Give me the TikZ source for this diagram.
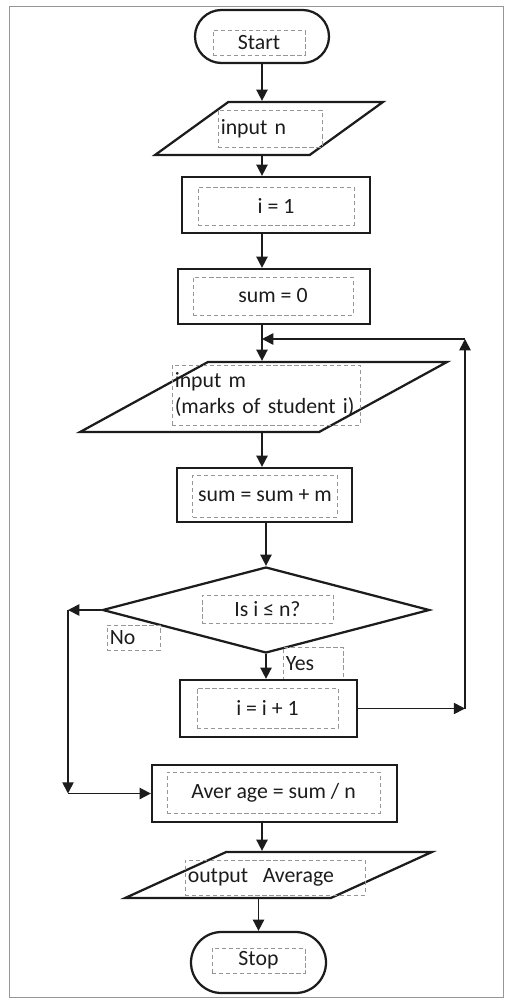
\documentclass[tikz,border=0pt]{standalone}
\usepackage{fontspec}
\setmainfont{Carlito}
\usepackage{tikz}
\usetikzlibrary{arrows.meta,shapes.misc,shapes.geometric}
\definecolor{ink}{RGB}{28,28,28}
\definecolor{scan}{RGB}{150,150,150}
\newlength{\pxl}
\setlength{\pxl}{0.025cm}

\begin{document}
\begin{tikzpicture}[x=\pxl,y=-\pxl,
  shp/.style={draw=ink,line width=1.6pt,inner sep=0pt},
  term/.style={shp,rounded rectangle},
  proc/.style={shp,rectangle},
  io/.style={shp,trapezium,trapezium stretches=true,inner sep=2pt},
  dec/.style={shp,diamond,inner sep=2pt},
  sz/.style 2 args={minimum width=#1*\pxl,minimum height=#2*\pxl},
  tbox/.style={draw=scan,densely dashed,line width=0.5pt,inner xsep=4pt,inner ysep=0pt,
    text=ink,font=\fontsize{15.5}{18.5}\selectfont},
  lbox/.style={tbox,inner xsep=2pt,align=left,text width=\dimexpr#1\pxl-4pt\relax},
  arr/.style={draw=ink,line width=1.2pt,-{Triangle[length=8pt,width=8pt]}}]
  \useasboundingbox (0,0) rectangle (506,999);
  \draw[scan,line width=0.6pt] (9,6) rectangle (503,997);
  \node[term,sz={134}{53}] (start) at (262,36.5) {};
  \node[tbox,sz={92}{25}] (startT) at (259,42.5) {Start};
  \node[io,sz={228}{53},trapezium left angle=48,trapezium right angle=132] (inN) at (269,128.5) {};
  \node[lbox=104,sz={104}{37}] (inNT) at (270,128.5) {input n};
  \node[proc,sz={188}{56}] (one) at (276,205) {};
  \node[tbox,sz={156}{38}] (oneT) at (276,206) {i = 1};
  \node[proc,sz={192}{55}] (zero) at (274,296.5) {};
  \node[tbox,sz={160}{38}] (zeroT) at (273,296) {sum = 0};
  \node[io,sz={367}{70},trapezium left angle=41,trapezium right angle=139] (inM) at (263.5,397) {};
  \node[lbox=188,sz={188}{60}] (inMT) at (266,395) {input m\\(marks of student i)};
  \node[proc,sz={175}{54}] (acc) at (264.5,495) {};
  \node[tbox,sz={144}{42}] (accT) at (265,496) {sum = sum + m};
  \node[dec,sz={327}{86}] (test) at (266,610) {};
  \node[tbox,sz={131}{28}] (testT) at (267.5,609) {Is i ≤ n?};
  \node[lbox=53,sz={53}{25}] (noT) at (133.5,637.5) {No};
  \node[lbox=60,sz={60}{33}] (yesT) at (313,663.5) {Yes};
  \node[proc,sz={177}{57}] (inc) at (268.5,708.5) {};
  \node[tbox,sz={141}{40}] (incT) at (267.5,708) {i = i + 1};
  \node[proc,sz={245}{57}] (avg) at (274.5,793.5) {};
  \node[tbox,sz={213}{41}] (avgT) at (273.5,792.5) {Aver age = sum / n};
  \node[io,sz={307}{46},trapezium left angle=46,trapezium right angle=134] (out) at (278.5,875) {};
  \node[lbox=180,sz={180}{35}] (outT) at (275,877.5) {output\ \ Average};
  \node[term,sz={135}{61}] (stop) at (258.5,962.5) {};
  \node[tbox,sz={93}{25}] (stopT) at (258.5,960.5) {Stop};
  \coordinate (rt) at (465,339);
  \coordinate (lf) at (68,610);
  \draw[arr] (start.south) -- (start.south |- inN.north);
  \draw[arr] (inN.south -| start) -- (one.north -| start);
  \draw[arr] (one.south -| start) -- (zero.north -| start);
  \draw[arr] (zero.south -| start) -- (inM.north -| start);
  \draw[arr] (inM.south -| start) -- (acc.north -| start);
  \draw[arr] (acc.south -| test) -- (test.north);
  \draw[arr] (test.south) -- (test.south |- inc.north);
  \draw[arr] (inc.east) -- (inc.east -| rt);
  \draw[arr] (inc.east -| rt) -- (rt);
  \draw[arr] (rt) -- (rt -| start);
  \draw[arr] (test.west) -- (test.west -| lf);
  \draw[arr] (test.west -| lf) -- (lf |- avg.west);
  \draw[arr] (lf |- avg.west) -- (avg.west);
  \draw[arr] (avg.south -| start) -- (out.north -| start);
  \draw[arr] (out.south -| stop) -- (stop.north);
\end{tikzpicture}
\end{document}
